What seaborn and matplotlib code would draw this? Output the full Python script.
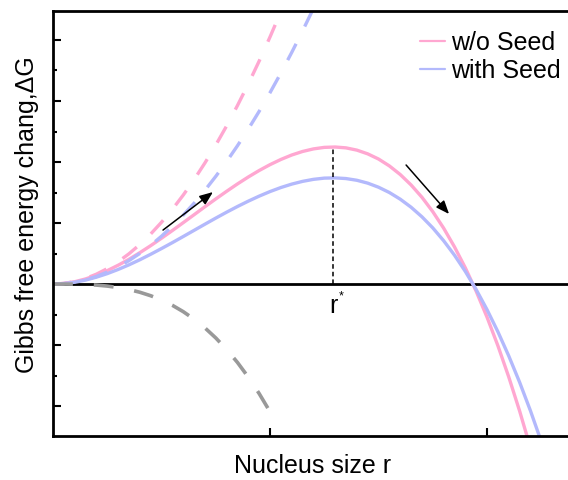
import matplotlib
matplotlib.use("Agg")
import matplotlib.pyplot as plt
import seaborn as sns
from matplotlib.lines import Line2D
from matplotlib.ticker import FixedLocator, NullFormatter

# Nucleus size (arbitrary units)
r = [0.00, 0.05, 0.10, 0.15, 0.20, 0.25, 0.30, 0.35, 0.40, 0.45, 0.50, 0.55,
     0.60, 0.65, 0.70, 0.75, 0.80, 0.85, 0.90, 0.95, 1.00, 1.05, 1.10, 1.15,
     1.20, 1.25, 1.30, 1.35, 1.40, 1.45, 1.50, 1.55, 1.60, 1.65, 1.70, 1.75,
     1.80, 1.85, 1.90, 1.95, 2.00, 2.05, 2.10, 2.15, 2.20, 2.25, 2.30]

# Total free energy change
dg_without_seed = [0.000, 0.010, 0.038, 0.084, 0.145, 0.220, 0.308, 0.406,
                   0.514, 0.629, 0.751, 0.877, 1.006, 1.136, 1.267, 1.395,
                   1.520, 1.641, 1.755, 1.861, 1.957, 2.042, 2.115, 2.173,
                   2.215, 2.240, 2.246, 2.232, 2.195, 2.134, 2.049, 1.936,
                   1.795, 1.624, 1.422, 1.186, 0.916, 0.609, 0.265, -0.119,
                   -0.544, -1.011, -1.523, -2.080, -2.684, -3.338, -4.041]
dg_with_seed = [0.000, 0.008, 0.030, 0.065, 0.113, 0.171, 0.239, 0.315,
                0.398, 0.488, 0.582, 0.679, 0.779, 0.880, 0.981, 1.081,
                1.178, 1.271, 1.359, 1.441, 1.516, 1.582, 1.638, 1.683,
                1.716, 1.736, 1.740, 1.729, 1.701, 1.654, 1.587, 1.500,
                1.391, 1.259, 1.102, 0.920, 0.710, 0.473, 0.206, -0.091,
                -0.420, -0.782, -1.178, -1.609, -2.077, -2.583, -3.128]

# Surface energy terms
surface_without = [0.000, 0.010, 0.041, 0.091, 0.162, 0.253, 0.365, 0.496,
                   0.648, 0.820, 1.013, 1.225, 1.458, 1.711, 1.985, 2.278,
                   2.592, 2.926, 3.281, 3.655, 4.050, 4.465, 4.901]
surface_with = [0.000, 0.008, 0.031, 0.071, 0.125, 0.196, 0.282, 0.384,
                0.502, 0.635, 0.784, 0.949, 1.129, 1.325, 1.537, 1.765,
                2.008, 2.267, 2.541, 2.831, 3.137, 3.459, 3.796, 4.149,
                4.517]

# Volume energy term
volume_term = [0.000, -0.000, -0.002, -0.007, -0.017, -0.033, -0.057,
               -0.090, -0.134, -0.191, -0.262, -0.348, -0.452, -0.575,
               -0.718, -0.883, -1.072, -1.285, -1.526, -1.795, -2.093]

# Critical radius and peak height
r_star = 1.29
peak_without_seed = 2.246

series_labels = ["w/o Seed", "with Seed"]

PINK = "#FFA7D1"
BLUE = "#B3B9FC"
GRAY = "#999999"

sns.set_style("ticks")
plt.rcParams["font.family"] = ["Liberation Sans", "DejaVu Sans"]
plt.rcParams["font.size"] = 18
plt.rcParams["text.color"] = "black"

W, H = 568, 480
fig = plt.figure(figsize=(W / 100, H / 100), dpi=100)
ax = fig.add_axes([53 / W, 44 / H, 520 / W, 425 / H])

solid_lw = 2.4
dash = (0, (5.5, 5.8))

sns.lineplot(x=r, y=dg_without_seed, ax=ax, color=PINK, lw=solid_lw, legend=False)
sns.lineplot(x=r, y=dg_with_seed, ax=ax, color=BLUE, lw=solid_lw, legend=False)
sns.lineplot(x=r[:len(surface_without)], y=surface_without, ax=ax, color=PINK,
             lw=solid_lw, linestyle=dash, legend=False)
sns.lineplot(x=r[:len(surface_with)], y=surface_with, ax=ax, color=BLUE,
             lw=solid_lw, linestyle=dash, legend=False)
sns.lineplot(x=r[:len(volume_term)], y=volume_term, ax=ax, color=GRAY,
             lw=2.6, linestyle=dash, legend=False)

# Zero line
ax.axhline(0, color="black", lw=2.0, zorder=1)

# Critical radius marker
ax.plot([r_star, r_star], [0, peak_without_seed], color="black", lw=1.1,
        linestyle=(0, (3, 2)))
ax.text(r_star, -0.47, "r", ha="center", va="baseline", fontsize=18,
        color="black")
ax.text(r_star + 0.04, -0.2, "*", ha="center", va="center", fontsize=9,
        color="black")

# Growth direction arrows
arrow_kw = dict(arrowstyle="-|>,head_length=0.5,head_width=0.2", color="black",
                lw=1.1, mutation_scale=16, shrinkA=0, shrinkB=0)
ax.annotate("", xy=(0.737, 1.508), xytext=(0.507, 0.885), arrowprops=arrow_kw)
ax.annotate("", xy=(1.825, 1.148), xytext=(1.627, 1.951), arrowprops=arrow_kw)

ax.set_xlim(0, 2.396)
ax.set_ylim(-2.49, 4.475)
ax.set_xticks([1, 2])
ax.set_yticks([-2, -1, 0, 1, 2, 3, 4])
ax.yaxis.set_minor_locator(FixedLocator([-1.5, -0.5, 0.5, 1.5, 2.5, 3.5]))
ax.xaxis.set_major_formatter(NullFormatter())
ax.yaxis.set_major_formatter(NullFormatter())
ax.tick_params(axis="both", which="major", direction="in", length=5.5,
               width=1.5, color="black")
ax.tick_params(axis="y", which="minor", direction="in", length=3, width=1.5,
               color="black")
for side in ["left", "right", "top", "bottom"]:
    ax.spines[side].set_linewidth(2.0)
    ax.spines[side].set_color("black")
ax.set_xlabel("")
ax.set_ylabel("")

fig.text(313 / W, 1 - 473 / H, "Nucleus size r", ha="center", va="baseline",
         fontsize=18, color="black")
fig.text(34 / W, 1 - 215 / H, "Gibbs free energy chang,\u0394G", rotation=90,
         rotation_mode="anchor", ha="center", va="baseline", fontsize=18,
         color="black")

handles = [Line2D([], [], color=PINK, lw=1.6), Line2D([], [], color=BLUE, lw=1.6)]
leg = fig.legend(handles, series_labels, loc="upper left",
                 bbox_to_anchor=(420 / W, 1 - 31 / H), frameon=False,
                 fontsize=18, handlelength=1.0, handletextpad=0.25,
                 labelspacing=0.16, borderpad=0, borderaxespad=0)
for t in leg.get_texts():
    t.set_color("black")

fig.savefig("out.png", dpi=100)
